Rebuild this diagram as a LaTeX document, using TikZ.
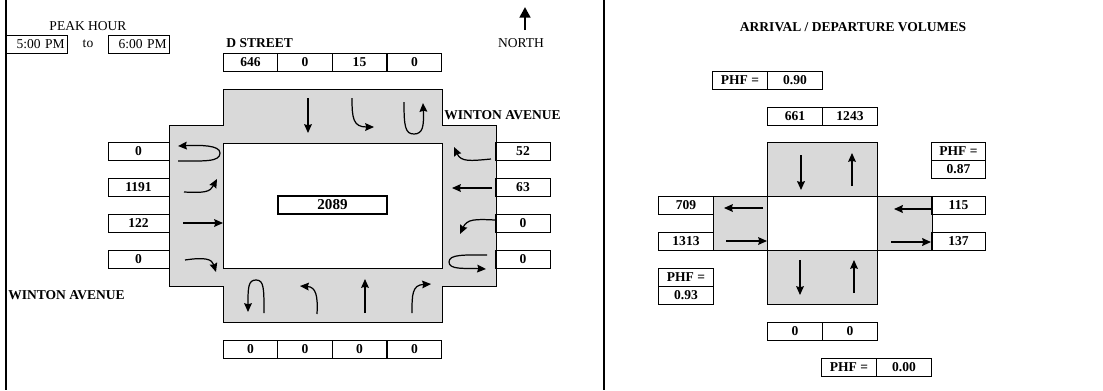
\documentclass[tikz,border=0pt]{standalone}
\usepackage{fontspec}
\setmainfont{Liberation Serif}
\usetikzlibrary{arrows.meta}
\definecolor{roadgray}{HTML}{D9D9D9}
\newcommand{\cellrow}[3]{\foreach \x/\val [count=\i] in {#3}{\node[cellbox] (#1\i) at (\x,#2) {\val};}}
\newcommand{\phfcell}[4]{\node[cellbox] (#1a) at (#2) {PHF =};\node[cellbox] (#1b) at (#3) {#4};}
\begin{document}
\begin{tikzpicture}
                [x=0.02cm,y=-0.02cm,
                cellbox/.style={rectangle,draw=black,line width=.5pt,inner sep=0pt,minimum width=1.09cm,minimum height=.36cm,font=\fontsize{7.7}{8}\selectfont\bfseries},
                sidebox/.style={cellbox,minimum width=1.22cm},
                timebox/.style={cellbox,minimum width=1.22cm,font=\fontsize{7.7}{8}\selectfont,align=right,text width=1.13cm},
                label/.style={inner sep=0pt,font=\fontsize{7.7}{8}\selectfont},
                title/.style={inner sep=0pt,font=\fontsize{7.7}{8}\selectfont\bfseries},
                road/.style={fill=roadgray,draw=black,line width=.5pt},
                arrow/.style={->,>={Stealth[length=5pt,width=4.4pt,inset=.6pt]},line width=.7pt},
                heavy/.style={arrow,line width=1pt},
                ]
                \useasboundingbox (0,0) rectangle (1103,390);
                % panel rules
                \draw[line width=1.1pt] (6,0) -- (6,390);
                \draw[line width=1.1pt] (604,0) -- (604,390);
                % peak hour
                \node[label] (peak) at (88,26) {PEAK HOUR};
                \node[timebox] (start) at (36.5,44) {5:00 PM};
                \node[label] (to) at (88,44) {to};
                \node[timebox] (end) at (138.5,44) {6:00 PM};
                \node[label] (north) at (521,43) {NORTH};
                \draw[->,>={Stealth[length=6pt,width=6pt,inset=0pt]},line width=1.7pt] (525,30) -- (525,7);
                \node[title,anchor=west] (dstreet) at (226,43) {D STREET};
                \node[title,anchor=west] (wintonE) at (444,115) {WINTON AVENUE};
                \node[title,anchor=west] (wintonW) at (8,295) {WINTON AVENUE};
                % left intersection
                \draw[road] (223,89) -- (442,89) -- (442,125) -- (496,125) -- (496,286) -- (442,286) -- (442,322) -- (223,322) -- (223,286) -- (169,286) -- (169,125) -- (223,125) -- cycle;
                \draw[fill=white,line width=.5pt] (223,143) rectangle (442,268);
                \node[cellbox,minimum width=2.18cm,line width=1.1pt] (total) at (332.5,205) {\fontsize{8.6}{9}\selectfont 2089};
                \cellrow{north}{62}{250.5/646,305/0,359.5/15,414.5/0}
                \cellrow{south}{349}{250.5/0,305/0,359.5/0,414.5/0}
                \foreach \y/\val [count=\i] in {151/0,187/1191,223/122,259/0}{\node[sidebox] (west\i) at (138.5,\y) {\val};}
                \foreach \y/\val [count=\i] in {151/52,187/63,223/0,259/0}{\node[cellbox] (east\i) at (523,\y) {\val};}
                % north leg
                \draw[arrow] (308,98) -- (308,133);
                \draw[arrow] (352,98) .. controls (352,118) and (353,127) .. (374,127);
                \draw[arrow] (404,102) .. controls (404,126) and (405,134) .. (414,134) .. controls (423,134) and (424,126) .. (423,103);
                % east leg
                \draw[arrow] (491,159) .. controls (470,161) and (461,162) .. (454,147);
                \draw[arrow] (492,188) -- (452,188);
                \draw[arrow] (495,220) .. controls (475,219) and (467,219) .. (460,234);
                \draw[arrow] (487,255) .. controls (465,255) and (449,254) .. (449,262) .. controls (449,270) and (465,268) .. (486,269);
                % south leg
                \draw[arrow] (264,313) .. controls (264,288) and (264,280) .. (256,280) .. controls (248,280) and (248,288) .. (248,312);
                \draw[arrow] (317,314) .. controls (318,296) and (316,287) .. (300,286);
                \draw[arrow] (365,313) -- (365,279);
                \draw[arrow] (412,313) .. controls (412,295) and (412,285) .. (431,284);
                % west leg
                \draw[arrow] (178,161) .. controls (205,161) and (220,162) .. (220,153) .. controls (220,145) and (200,145) .. (178,146);
                \draw[arrow] (184,192) .. controls (205,193) and (210,192) .. (217,179);
                \draw[arrow] (183,223) -- (223,223);
                \draw[arrow] (185,260) .. controls (205,257) and (212,259) .. (216,272);
                % right intersection
                \node[title] (volumes) at (853,27) {ARRIVAL / DEPARTURE VOLUMES};
                \draw[road] (767,142) -- (877,142) -- (877,196) -- (932,196) -- (932,250) -- (877,250) -- (877,304) -- (767,304) -- (767,250) -- (713,250) -- (713,196) -- (767,196) -- cycle;
                \draw[fill=white,line width=.5pt] (767,196) rectangle (877,250);
                \phfcell{phfN}{740,80}{795,80}{0.90}
                \phfcell{phfE}{958.5,151}{958.5,169}{0.87}
                \phfcell{phfW}{686,277}{686,295}{0.93}
                \phfcell{phfS}{849,367}{904,367}{0.00}
                \cellrow{arr}{116}{795/661,850/1243}
                \cellrow{dep}{331}{795/0,850/0}
                \node[cellbox] (wOut) at (686,205) {709};
                \node[cellbox] (wIn) at (686,241) {1313};
                \node[cellbox] (eIn) at (958.5,205) {115};
                \node[cellbox] (eOut) at (958.5,241) {137};
                \draw[heavy] (801,155) -- (801,190);
                \draw[arrow] (852,186) -- (852,153);
                \draw[arrow] (763,208) -- (724,208);
                \draw[heavy] (931,209) -- (894,209);
                \draw[arrow] (726,241) -- (767,241);
                \draw[heavy] (891,242) -- (931,242);
                \draw[arrow] (800,260) -- (800,295);
                \draw[arrow] (854,293) -- (854,260);
            \end{tikzpicture}
\end{document}
